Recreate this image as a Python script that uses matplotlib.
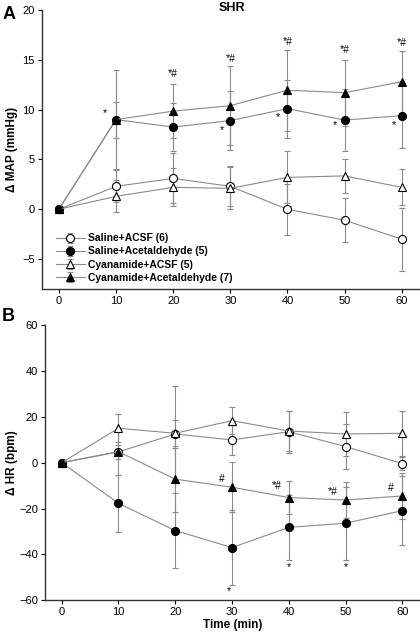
import matplotlib
matplotlib.use("Agg")
import matplotlib.pyplot as plt

plt.rcParams['font.family'] = ['Liberation Sans', 'DejaVu Sans']

# time points (min)
time = [0, 10, 20, 30, 40, 50, 60]

labels = ["Saline+ACSF (6)", "Saline+Acetaldehyde (5)",
          "Cyanamide+ACSF (5)", "Cyanamide+Acetaldehyde (7)"]

# Panel A: change in MAP (mmHg), mean and SEM
map_sal_acsf = [0, 2.3, 3.1, 2.3, 0.0, -1.1, -3.0]
map_sal_acsf_err = [0, 1.6, 2.5, 2.0, 2.55, 2.2, 3.15]
map_sal_ald = [0, 9.0, 8.25, 8.9, 10.1, 8.95, 9.4]
map_sal_ald_err = [0, 5.0, 2.45, 3.0, 2.9, 3.1, 3.3]
map_cy_acsf = [0, 1.3, 2.2, 2.1, 3.2, 3.35, 2.2]
map_cy_acsf_err = [0, 1.6, 1.9, 2.1, 2.6, 1.7, 1.8]
map_cy_ald = [0, 9.0, 9.85, 10.4, 11.95, 11.7, 12.8]
map_cy_ald_err = [0, 1.8, 2.7, 3.95, 4.05, 3.3, 3.1]

# Panel B: change in HR (bpm), mean and SEM
hr_sal_acsf = [0, 4.7, 12.5, 9.9, 13.5, 7.0, -0.4]
hr_sal_acsf_err = [0, 3.0, 6.3, 6.7, 9.2, 9.9, 3.0]
hr_sal_ald = [0, -17.7, -29.6, -37.0, -28.2, -26.4, -20.9]
hr_sal_ald_err = [0, 12.4, 16.5, 16.5, 14.3, 16.0, 15.0]
hr_cy_acsf = [0, 15.0, 12.8, 18.3, 13.8, 12.5, 12.8]
hr_cy_acsf_err = [0, 6.1, 20.6, 6.0, 8.8, 9.4, 9.9]
hr_cy_ald = [0, 4.8, -7.2, -10.7, -15.2, -16.3, -14.5]
hr_cy_ald_err = [0, 10.0, 14.4, 11.0, 7.0, 8.0, 10.0]

# significance marks: (text, x, y)
marks_a = [("*", 8.0, 9.7), ("*#", 20, 13.6), ("*#", 30, 15.1), ("*#", 40, 16.8),
           ("*#", 50, 16.0), ("*#", 60, 16.7), ("*", 28.5, 7.9), ("*", 38.3, 9.3),
           ("*", 48.3, 8.4), ("*", 58.7, 8.5)]
marks_b = [("#", 28.2, -7.2), ("*#", 37.9, -10.2), ("*#", 47.8, -12.6), ("#", 58.0, -11.2),
           ("*", 29.5, -55.8), ("*", 40, -45.3), ("*", 50, -45.3)]

styles = [dict(marker='o', mfc='white'), dict(marker='o', mfc='black'),
          dict(marker='^', mfc='white'), dict(marker='^', mfc='black')]

fig = plt.figure(figsize=(4.2, 6.36), dpi=100)
ax_a = fig.add_axes([0.0993, 0.5456, 0.9007, 0.4387])
ax_b = fig.add_axes([0.107, 0.0561, 0.893, 0.4329])


def draw_panel(ax, series, marks):
    for (y, err), lab, st in zip(series, labels, styles):
        ax.errorbar(time, y, yerr=err, color='#8a8a8a', lw=0.8, elinewidth=0.8,
                    capsize=2.3, capthick=0.8, ms=5.8, mec='black', mew=0.8,
                    label=lab, zorder=3, **st)
    for txt, x, y in marks:
        ax.text(x, y, txt, ha='center', va='center', fontsize=7.5)
    for side in ('top', 'right'):
        ax.spines[side].set_visible(False)
    for side in ('left', 'bottom'):
        ax.spines[side].set_color('#333333')
        ax.spines[side].set_linewidth(1.0)
    ax.tick_params(direction='out', length=3, width=0.8, labelsize=8, pad=2)
    ax.set_xticks(time)


draw_panel(ax_a, [(map_sal_acsf, map_sal_acsf_err), (map_sal_ald, map_sal_ald_err),
                  (map_cy_acsf, map_cy_acsf_err), (map_cy_ald, map_cy_ald_err)], marks_a)
ax_a.set_xlim(-3, 63.2)
ax_a.set_ylim(-8, 20)
ax_a.set_yticks([-5, 0, 5, 10, 15, 20])
ax_a.set_ylabel("Δ MAP (mmHg)", fontsize=8.5, fontweight='bold', labelpad=3)
leg = ax_a.legend(loc='lower left', bbox_to_anchor=(0.02, 0.0), frameon=False,
                  prop={'size': 7.5, 'weight': 'bold'}, handlelength=2.8,
                  labelspacing=0.3, handletextpad=0.3, borderaxespad=0.2)

draw_panel(ax_b, [(hr_sal_acsf, hr_sal_acsf_err), (hr_sal_ald, hr_sal_ald_err),
                  (hr_cy_acsf, hr_cy_acsf_err), (hr_cy_ald, hr_cy_ald_err)], marks_b)
ax_b.set_xlim(-2.94, 63.1)
ax_b.set_ylim(-60, 60)
ax_b.set_yticks([-60, -40, -20, 0, 20, 40, 60])
ax_b.set_ylabel("Δ HR (bpm)", fontsize=8.5, fontweight='bold', labelpad=1)
ax_b.set_xlabel("Time (min)", fontsize=8.5, fontweight='bold', labelpad=1)

fig.text(232 / 420, 1 - 8 / 636, "SHR", fontsize=9, fontweight='bold',
         ha='center', va='center')
fig.text(0.005, 0.99, "A", fontsize=13, fontweight='bold', va='top')
fig.text(0.005, 0.515, "B", fontsize=13, fontweight='bold', va='top')

fig.savefig("out.png", dpi=100)
